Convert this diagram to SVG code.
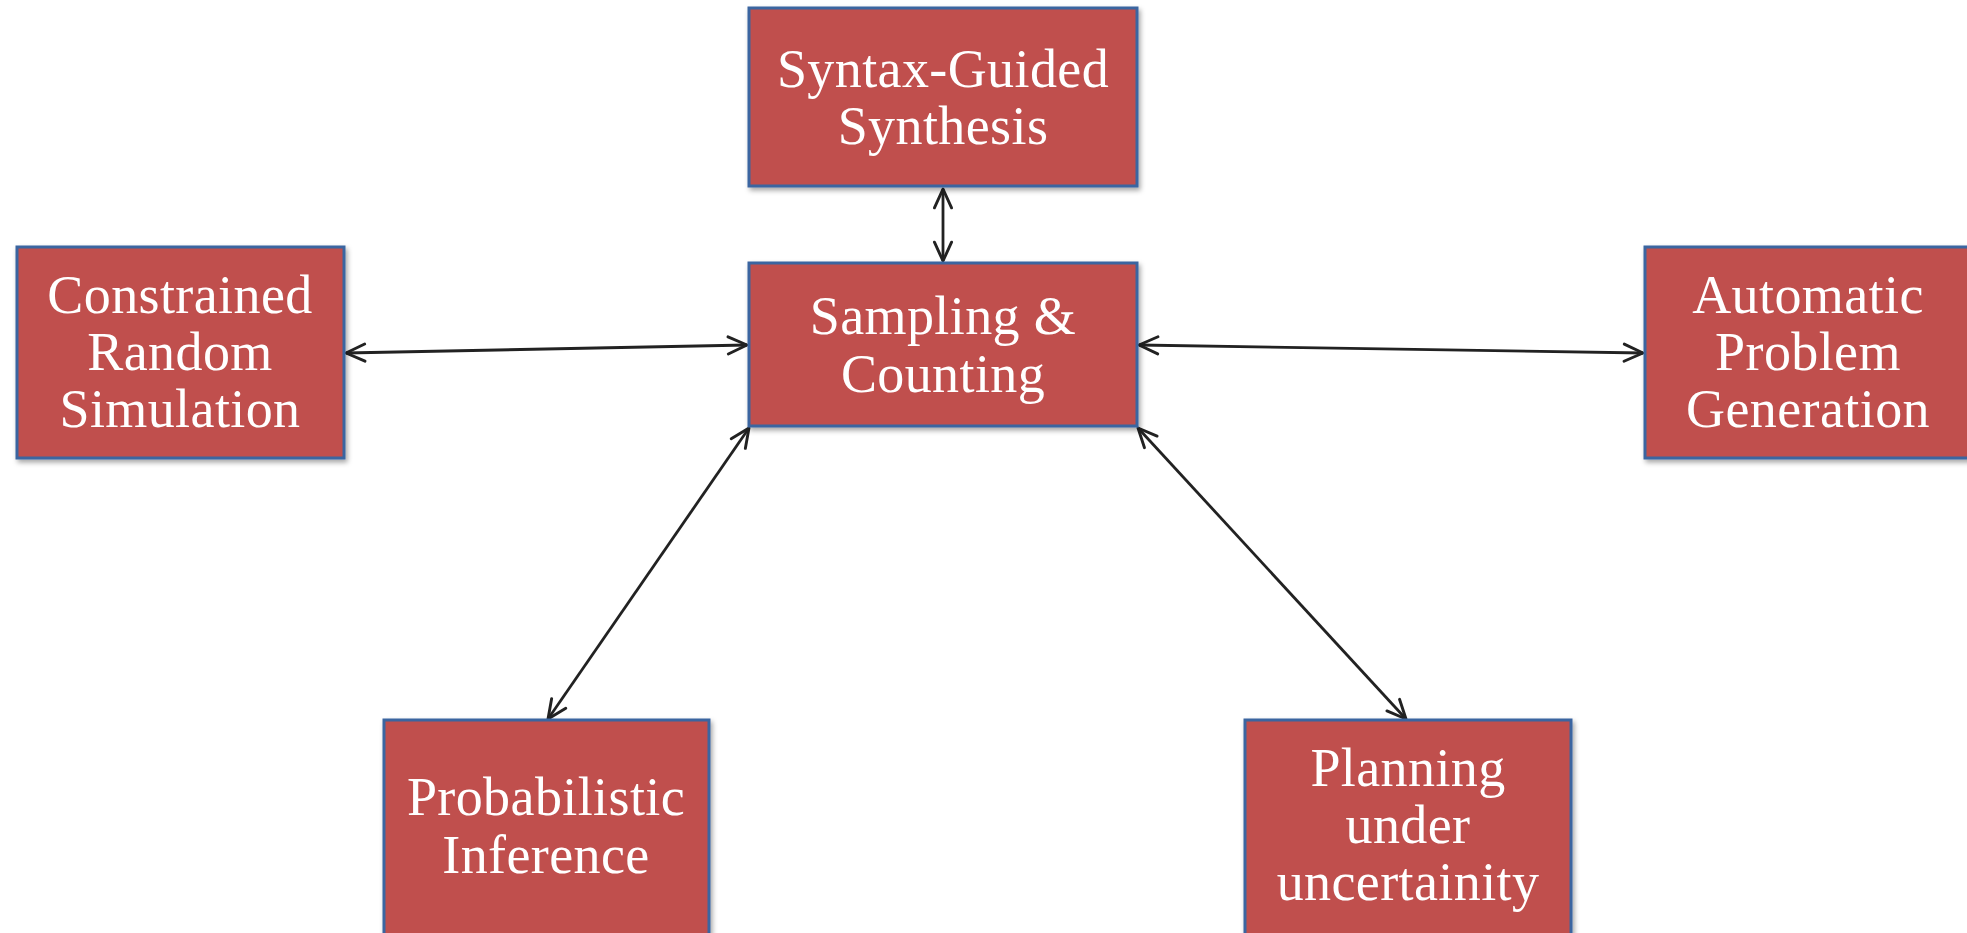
<svg xmlns="http://www.w3.org/2000/svg" width="1967" height="933" viewBox="0 0 1967 933">
<defs>
<style>
.box{fill:#C0504D;stroke:#3A65A0;stroke-width:3}
.lbl{font-family:"Liberation Serif","Times New Roman",serif;font-size:54px;fill:#FFFFFF;text-anchor:middle;letter-spacing:0.4px}
.con{stroke:#222222;stroke-width:2.8;fill:none}
</style>
<filter id="sh" x="-10%" y="-10%" width="125%" height="130%">
<feDropShadow dx="2" dy="3" stdDeviation="2.5" flood-color="#000" flood-opacity="0.35"/>
</filter>
<marker id="ah2" viewBox="-1 -1 14 14" refX="12" refY="6" markerWidth="24" markerHeight="24" orient="auto-start-reverse" markerUnits="userSpaceOnUse">
<path d="M1,1 L12,6 L1,11" fill="none" stroke="#222222" stroke-width="1.7" stroke-linecap="round" stroke-linejoin="round"/>
</marker>
</defs>
<rect width="1967" height="933" fill="#FFFFFF"/>
<g id="connectors">
<line class="con" x1="943" y1="189" x2="943" y2="261" marker-start="url(#ah2)" marker-end="url(#ah2)"/>
<line class="con" x1="346" y1="353" x2="747" y2="345" marker-start="url(#ah2)" marker-end="url(#ah2)"/>
<line class="con" x1="1139" y1="345" x2="1643" y2="353" marker-start="url(#ah2)" marker-end="url(#ah2)"/>
<line class="con" x1="749" y1="428" x2="548" y2="719" marker-start="url(#ah2)" marker-end="url(#ah2)"/>
<line class="con" x1="1138" y1="428" x2="1406" y2="719" marker-start="url(#ah2)" marker-end="url(#ah2)"/>
</g>
<g id="syntax">
<rect class="box" filter="url(#sh)" x="749" y="8" width="388" height="178"/>
<text class="lbl" x="943" y="87">Syntax-Guided</text>
<text class="lbl" x="943" y="144">Synthesis</text>
</g>
<g id="sampling">
<rect class="box" filter="url(#sh)" x="749" y="263" width="388" height="163"/>
<text class="lbl" x="943" y="334">Sampling &amp;</text>
<text class="lbl" x="943" y="392">Counting</text>
</g>
<g id="constrained">
<rect class="box" filter="url(#sh)" x="17" y="247" width="327" height="211"/>
<text class="lbl" x="180" y="313">Constrained</text>
<text class="lbl" x="180" y="370">Random</text>
<text class="lbl" x="180" y="427">Simulation</text>
</g>
<g id="automatic">
<rect class="box" filter="url(#sh)" x="1645" y="247" width="327" height="211"/>
<text class="lbl" x="1808" y="313">Automatic</text>
<text class="lbl" x="1808" y="370">Problem</text>
<text class="lbl" x="1808" y="427">Generation</text>
</g>
<g id="probabilistic">
<rect class="box" filter="url(#sh)" x="384" y="720" width="325" height="215"/>
<text class="lbl" x="546" y="815">Probabilistic</text>
<text class="lbl" x="546" y="873">Inference</text>
</g>
<g id="planning">
<rect class="box" filter="url(#sh)" x="1245" y="720" width="326" height="215"/>
<text class="lbl" x="1408" y="786">Planning</text>
<text class="lbl" x="1408" y="843">under</text>
<text class="lbl" x="1408" y="900">uncertainity</text>
</g>
</svg>
